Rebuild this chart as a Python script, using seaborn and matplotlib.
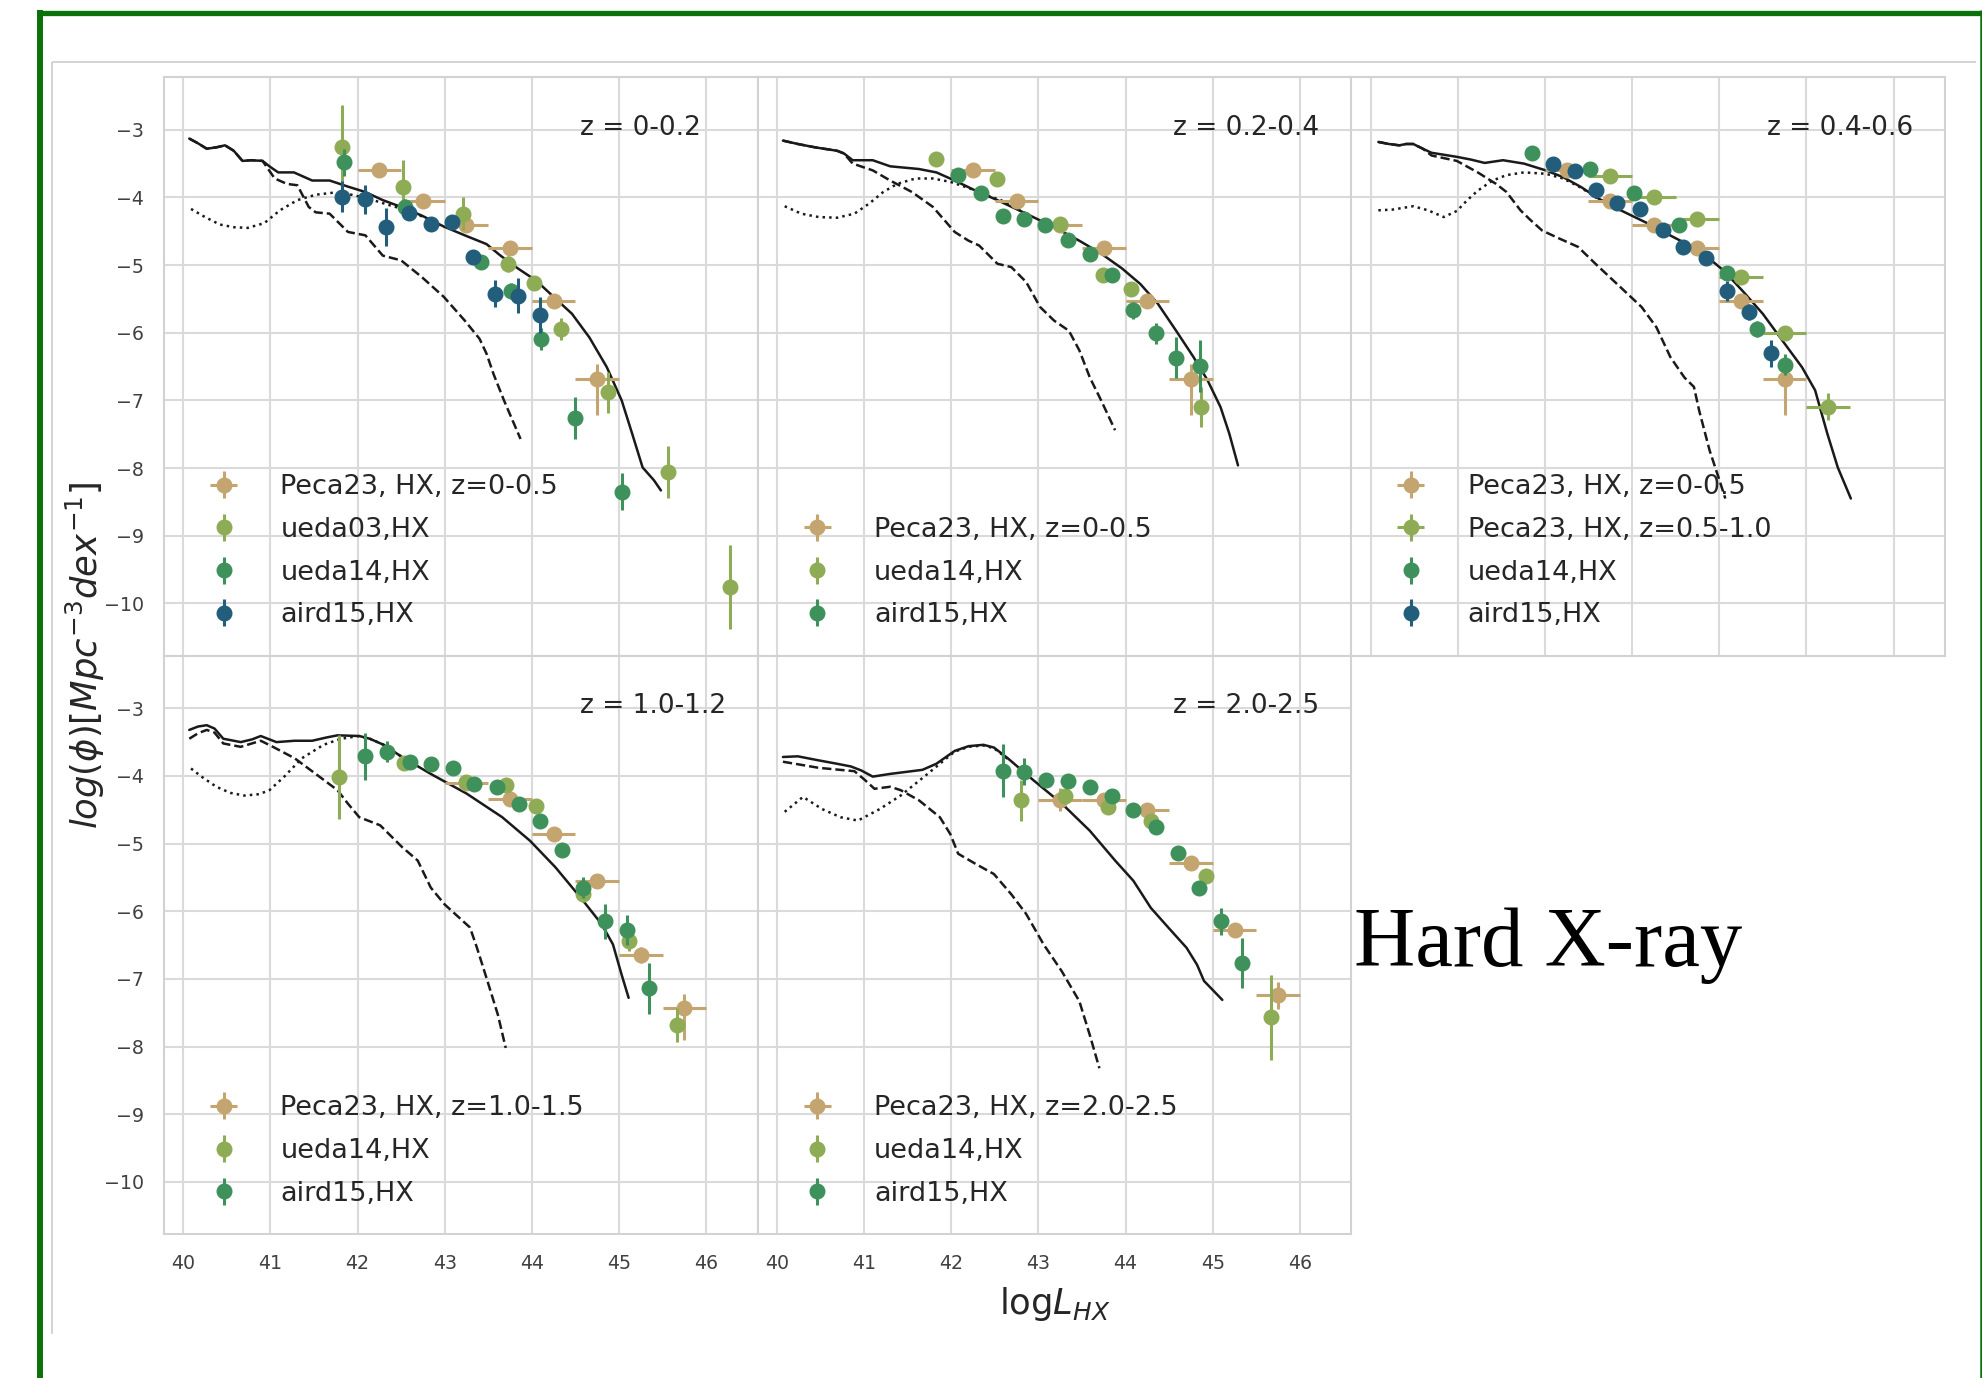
import numpy as np
import matplotlib
matplotlib.use("Agg")
import matplotlib.pyplot as plt
from matplotlib.lines import Line2D
import seaborn as sns

# ---------------------------------------------------------------- model curves
# z = 0-0.2
m1_x = [40.07, 40.17, 40.27, 40.38, 40.48, 40.58, 40.68, 40.78, 40.91, 41.0, 41.09, 41.27, 41.48, 41.68,
        41.89, 42.09, 42.29, 42.5, 42.74, 42.99, 43.23, 43.48, 43.64, 43.84, 44.05, 44.25, 44.46, 44.66,
        44.86, 45.03, 45.15, 45.27, 45.4, 45.48]
m1_tot = [-3.13, -3.2, -3.28, -3.26, -3.23, -3.31, -3.46, -3.45, -3.46, -3.55, -3.63, -3.63, -3.75, -3.75,
          -3.84, -3.92, -4.04, -4.14, -4.27, -4.43, -4.56, -4.69, -4.86, -5.05, -5.23, -5.47, -5.72, -6.07,
          -6.51, -7.0, -7.49, -7.99, -8.18, -8.33]
m1_agn_x = [40.07, 40.17, 40.27, 40.38, 40.48, 40.58, 40.68, 40.78, 40.91, 41.05, 41.19, 41.31, 41.44, 41.52,
            41.68, 41.89, 42.09, 42.29, 42.5, 42.74, 42.99, 43.23, 43.4, 43.48, 43.56, 43.68, 43.78, 43.87]
m1_agn = [-3.13, -3.2, -3.28, -3.26, -3.23, -3.31, -3.46, -3.45, -3.46, -3.72, -3.8, -3.82, -4.14, -4.22,
          -4.24, -4.51, -4.56, -4.86, -4.93, -5.18, -5.47, -5.82, -6.09, -6.31, -6.61, -7.0, -7.3, -7.57]
m1_sf_x = [40.09, 40.25, 40.42, 40.58, 40.74, 40.93, 41.11, 41.31, 41.52, 41.72, 41.93, 42.13, 42.33, 42.54,
           42.74, 42.99]
m1_sf = [-4.17, -4.29, -4.4, -4.44, -4.45, -4.38, -4.19, -4.04, -3.96, -3.93, -3.96, -4.02, -4.1, -4.18,
         -4.28, -4.44]

# z = 0.2-0.4
m2_x = [40.07, 40.24, 40.44, 40.69, 40.77, 40.87, 41.1, 41.3, 41.63, 41.83, 42.04, 42.28, 42.53, 42.86,
        43.18, 43.47, 43.72, 43.96, 44.17, 44.37, 44.58, 44.78, 44.94, 45.09, 45.19, 45.29]
m2_tot = [-3.16, -3.21, -3.26, -3.31, -3.35, -3.45, -3.45, -3.54, -3.58, -3.63, -3.75, -3.9, -4.04, -4.24,
          -4.44, -4.64, -4.83, -5.05, -5.28, -5.57, -5.97, -6.36, -6.7, -7.1, -7.49, -7.96]
m2_agn_x = [40.07, 40.24, 40.44, 40.69, 40.77, 40.87, 41.1, 41.3, 41.55, 41.79, 42.04, 42.2, 42.32, 42.53,
            42.69, 42.86, 43.02, 43.18, 43.35, 43.47, 43.59, 43.72, 43.88]
m2_agn = [-3.16, -3.21, -3.26, -3.31, -3.35, -3.5, -3.6, -3.75, -3.92, -4.14, -4.51, -4.64, -4.71, -4.98,
          -5.03, -5.25, -5.62, -5.82, -5.97, -6.26, -6.66, -7.0, -7.44]
m2_sf_x = [40.09, 40.28, 40.48, 40.69, 40.89, 41.06, 41.22, 41.38, 41.59, 41.79, 41.99, 42.2, 42.41, 42.57,
           42.86]
m2_sf = [-4.13, -4.24, -4.29, -4.3, -4.24, -4.09, -3.92, -3.8, -3.72, -3.72, -3.77, -3.86, -3.97, -4.04,
         -4.24]

# z = 0.4-0.6
m3_x = [40.09, 40.21, 40.33, 40.41, 40.49, 40.6, 40.7, 40.99, 41.15, 41.31, 41.52, 41.76, 42.01, 42.21,
        42.42, 42.62, 42.87, 43.19, 43.48, 43.77, 44.05, 44.26, 44.5, 44.75, 44.95, 45.1, 45.24, 45.36, 45.51]
m3_tot = [-3.18, -3.21, -3.23, -3.21, -3.21, -3.28, -3.34, -3.4, -3.44, -3.49, -3.45, -3.5, -3.6, -3.7,
          -3.85, -4.02, -4.19, -4.39, -4.59, -4.78, -5.08, -5.37, -5.72, -6.16, -6.51, -6.85, -7.49, -7.99, -8.45]
m3_agn_x = [40.09, 40.21, 40.33, 40.41, 40.49, 40.6, 40.7, 40.99, 41.23, 41.44, 41.56, 41.72, 41.84, 41.97,
            42.17, 42.38, 42.58, 42.87, 43.11, 43.28, 43.44, 43.6, 43.71, 43.77, 43.89, 43.99, 44.07]
m3_agn = [-3.18, -3.21, -3.23, -3.21, -3.21, -3.28, -3.38, -3.46, -3.63, -3.8, -3.92, -4.19, -4.34, -4.49,
          -4.61, -4.73, -4.98, -5.33, -5.62, -5.92, -6.36, -6.66, -6.8, -7.15, -7.74, -8.13, -8.45]
m3_sf_x = [40.09, 40.25, 40.49, 40.66, 40.84, 40.99, 41.11, 41.23, 41.4, 41.56, 41.76, 42.01, 42.21, 42.42,
           42.62, 42.87]
m3_sf = [-4.19, -4.18, -4.13, -4.19, -4.29, -4.2, -4.04, -3.9, -3.75, -3.67, -3.63, -3.65, -3.72, -3.86,
         -4.03, -4.19]

# z = 1.0-1.2
m4_x = [40.07, 40.17, 40.27, 40.36, 40.46, 40.66, 40.79, 40.89, 40.99, 41.07, 41.28, 41.48, 41.65, 41.77,
        42.02, 42.14, 42.3, 42.51, 42.84, 43.25, 43.66, 43.98, 44.27, 44.56, 44.8, 44.93, 45.03, 45.11]
m4_tot = [-3.32, -3.27, -3.25, -3.3, -3.45, -3.5, -3.46, -3.41, -3.46, -3.5, -3.48, -3.48, -3.43, -3.4,
          -3.41, -3.45, -3.54, -3.72, -3.97, -4.26, -4.61, -4.96, -5.35, -5.8, -6.19, -6.49, -6.94, -7.28]
m4_agn_x = [40.07, 40.17, 40.27, 40.36, 40.46, 40.66, 40.89, 41.03, 41.28, 41.52, 41.77, 41.89, 42.02, 42.26,
            42.51, 42.69, 42.84, 43.0, 43.29, 43.37, 43.49, 43.61, 43.7]
m4_agn = [-3.45, -3.37, -3.32, -3.36, -3.52, -3.57, -3.48, -3.57, -3.74, -3.97, -4.21, -4.41, -4.61, -4.73,
          -5.05, -5.25, -5.65, -5.9, -6.24, -6.54, -7.03, -7.53, -8.02]
m4_sf_x = [40.09, 40.21, 40.38, 40.54, 40.7, 40.87, 40.99, 41.16, 41.36, 41.61, 41.81, 42.02, 42.14, 42.3,
           42.51]
m4_sf = [-3.89, -4.01, -4.16, -4.25, -4.29, -4.27, -4.21, -4.01, -3.74, -3.54, -3.45, -3.41, -3.45, -3.54,
         -3.72]

# z = 2.0-2.5
m5_x = [40.07, 40.24, 40.48, 40.69, 40.85, 40.97, 41.1, 41.3, 41.67, 41.83, 42.04, 42.2, 42.37, 42.49,
        42.65, 42.94, 43.27, 43.59, 43.88, 44.09, 44.29, 44.49, 44.7, 44.82, 44.9, 45.11]
m5_tot = [-3.72, -3.71, -3.77, -3.82, -3.86, -3.92, -4.01, -3.97, -3.91, -3.82, -3.63, -3.56, -3.54, -3.58,
          -3.74, -4.06, -4.41, -4.81, -5.25, -5.55, -5.95, -6.24, -6.54, -6.79, -7.03, -7.31]
m5_agn_x = [40.07, 40.48, 40.89, 41.01, 41.12, 41.3, 41.42, 41.63, 41.87, 41.99, 42.08, 42.28, 42.49, 42.69,
            42.86, 43.06, 43.27, 43.47, 43.59, 43.7]
m5_agn = [-3.79, -3.88, -3.93, -4.06, -4.19, -4.16, -4.21, -4.36, -4.61, -4.86, -5.15, -5.3, -5.45, -5.75,
          -6.04, -6.49, -6.89, -7.33, -7.83, -8.32]
m5_sf_x = [40.09, 40.3, 40.52, 40.73, 40.93, 41.18, 41.42, 41.71, 41.87, 42.04, 42.2, 42.37, 42.49, 42.65]
m5_sf = [-4.53, -4.31, -4.49, -4.61, -4.66, -4.49, -4.29, -3.99, -3.82, -3.64, -3.57, -3.55, -3.59, -3.75]

# ---------------------------------------------------------------- observed LFs
# Peca23, z = 0-0.5 (shown in the three low-z panels)
peca05_x = [42.25, 42.75, 43.25, 43.75, 44.25, 44.75]
peca05_y = [-3.59, -4.06, -4.40, -4.75, -5.53, -6.68]
peca05_elo = [0.05, 0.05, 0.06, 0.07, 0.09, 0.54]
peca05_ehi = [0.05, 0.05, 0.06, 0.07, 0.08, 0.22]
# Peca23, z = 0.5-1.0
peca10_x = [42.75, 43.25, 43.75, 44.25, 44.75, 45.25]
peca10_y = [-3.69, -4.00, -4.32, -5.18, -6.00, -7.09]
peca10_err = [0.05, 0.05, 0.06, 0.08, 0.10, 0.20]
# Peca23, z = 1.0-1.5
peca15_x = [43.25, 43.75, 44.25, 44.75, 45.25, 45.75]
peca15_y = [-4.10, -4.34, -4.86, -5.55, -6.65, -7.43]
peca15_elo = [0.05, 0.05, 0.06, 0.08, 0.12, 0.47]
peca15_ehi = [0.05, 0.05, 0.06, 0.08, 0.12, 0.20]
# Peca23, z = 2.0-2.5
peca25_x = [43.25, 43.75, 44.25, 44.75, 45.25, 45.75]
peca25_y = [-4.35, -4.36, -4.51, -5.28, -6.28, -7.24]
peca25_err = [0.17, 0.10, 0.08, 0.08, 0.10, 0.20]
peca_xerr = 0.25

# ueda03, z = 0-0.2
ueda03_x = [41.82, 42.52, 43.21, 43.73, 44.03, 44.33, 44.87, 45.56, 46.27]
ueda03_y = [-3.26, -3.84, -4.24, -4.98, -5.27, -5.94, -6.88, -8.06, -9.76]
ueda03_err = [0.62, 0.40, 0.24, 0.12, 0.10, 0.16, 0.30, 0.38, 0.62]

# ueda14
u1_x = [41.84, 42.54, 43.42, 43.76, 44.11, 44.49, 45.03]
u1_y = [-3.48, -4.14, -4.96, -5.38, -6.09, -7.26, -8.35]
u1_err = [0.20, 0.12, 0.08, 0.12, 0.16, 0.31, 0.27]
u2_x = [41.82, 42.52, 43.25, 43.74, 44.06, 44.87]
u2_y = [-3.43, -3.73, -4.39, -5.15, -5.35, -7.10]
u2_err = [0.10, 0.10, 0.06, 0.10, 0.08, 0.30]
u3_x = [41.85, 42.52, 43.02, 43.54, 44.09, 44.43, 44.76]
u3_y = [-3.34, -3.58, -3.94, -4.41, -5.12, -5.95, -6.47]
u3_err = [0.05, 0.05, 0.06, 0.07, 0.10, 0.12, 0.16]
u4_x = [41.79, 42.53, 43.25, 43.70, 44.05, 44.59, 45.11, 45.66]
u4_y = [-4.02, -3.81, -4.09, -4.14, -4.45, -5.75, -6.44, -7.68]
u4_err = [0.62, 0.08, 0.06, 0.07, 0.08, 0.12, 0.15, 0.25]
u5_x = [42.80, 43.30, 43.80, 44.29, 44.92, 45.67]
u5_y = [-4.36, -4.30, -4.46, -4.66, -5.48, -7.57]
u5_err = [0.30, 0.10, 0.10, 0.08, 0.10, 0.63]

# aird15
a1_x = [41.82, 42.08, 42.33, 42.59, 42.84, 43.08, 43.33, 43.58, 43.84, 44.09]
a1_y = [-3.99, -4.03, -4.44, -4.23, -4.39, -4.36, -4.88, -5.42, -5.45, -5.74]
a1_err = [0.23, 0.22, 0.28, 0.10, 0.10, 0.08, 0.10, 0.20, 0.26, 0.27]
a2_x = [42.08, 42.34, 42.59, 42.84, 43.08, 43.34, 43.59, 43.84, 44.09, 44.35, 44.58, 44.85]
a2_y = [-3.67, -3.94, -4.27, -4.32, -4.40, -4.63, -4.84, -5.15, -5.67, -6.01, -6.37, -6.49]
a2_err = [0.06, 0.06, 0.10, 0.08, 0.06, 0.08, 0.08, 0.10, 0.12, 0.15, 0.30, 0.38]
a3_x = [42.09, 42.35, 42.59, 42.83, 43.09, 43.35, 43.59, 43.85, 44.09, 44.34, 44.59]
a3_y = [-3.51, -3.61, -3.89, -4.08, -4.17, -4.48, -4.73, -4.89, -5.38, -5.69, -6.30]
a3_err = [0.05, 0.05, 0.06, 0.06, 0.07, 0.07, 0.08, 0.08, 0.15, 0.12, 0.20]
a4_x = [42.09, 42.34, 42.60, 42.84, 43.09, 43.34, 43.60, 43.85, 44.09, 44.35, 44.59, 44.84, 45.09, 45.34]
a4_y = [-3.71, -3.64, -3.79, -3.83, -3.89, -4.12, -4.17, -4.42, -4.66, -5.09, -5.65, -6.15, -6.28, -7.14]
a4_err = [0.35, 0.15, 0.07, 0.06, 0.06, 0.06, 0.06, 0.07, 0.08, 0.10, 0.15, 0.26, 0.22, 0.38]
a5_x = [42.59, 42.84, 43.09, 43.34, 43.59, 43.84, 44.08, 44.35, 44.60, 44.84, 45.09, 45.34]
a5_y = [-3.92, -3.94, -4.06, -4.07, -4.17, -4.30, -4.51, -4.75, -5.14, -5.66, -6.15, -6.76]
a5_err = [0.39, 0.20, 0.06, 0.06, 0.06, 0.07, 0.07, 0.08, 0.08, 0.10, 0.20, 0.37]

z_labels = ["z = 0-0.2", "z = 0.2-0.4", "z = 0.4-0.6", "z = 1.0-1.2", "z = 2.0-2.5"]
x_ticks = [40, 41, 42, 43, 44, 45, 46]
y_ticks = [-3, -4, -5, -6, -7, -8, -9, -10]

# ---------------------------------------------------------------- style
sns.set_theme(style="whitegrid")
plt.rcParams["font.family"] = ["DejaVu Sans"]
plt.rcParams["mathtext.fontset"] = "dejavusans"
plt.rcParams["grid.color"] = "#dadada"
plt.rcParams["grid.linewidth"] = 1.5
plt.rcParams["axes.edgecolor"] = "#d2d2d2"
plt.rcParams["axes.linewidth"] = 1.5

palette = sns.color_palette("gist_earth_r", 4)

panels = [
    dict(models=(m1_x, m1_tot, m1_agn_x, m1_agn, m1_sf_x, m1_sf),
         series=[("Peca23, HX, z=0-0.5", peca05_x, peca05_y, [peca05_elo, peca05_ehi], peca_xerr),
                 ("ueda03,HX", ueda03_x, ueda03_y, ueda03_err, None),
                 ("ueda14,HX", u1_x, u1_y, u1_err, None),
                 ("aird15,HX", a1_x, a1_y, a1_err, None)]),
    dict(models=(m2_x, m2_tot, m2_agn_x, m2_agn, m2_sf_x, m2_sf),
         series=[("Peca23, HX, z=0-0.5", peca05_x, peca05_y, [peca05_elo, peca05_ehi], peca_xerr),
                 ("ueda14,HX", u2_x, u2_y, u2_err, None),
                 ("aird15,HX", a2_x, a2_y, a2_err, None)]),
    dict(models=(m3_x, m3_tot, m3_agn_x, m3_agn, m3_sf_x, m3_sf),
         series=[("Peca23, HX, z=0-0.5", peca05_x, peca05_y, [peca05_elo, peca05_ehi], peca_xerr),
                 ("Peca23, HX, z=0.5-1.0", peca10_x, peca10_y, peca10_err, peca_xerr),
                 ("ueda14,HX", u3_x, u3_y, u3_err, None),
                 ("aird15,HX", a3_x, a3_y, a3_err, None)]),
    dict(models=(m4_x, m4_tot, m4_agn_x, m4_agn, m4_sf_x, m4_sf),
         series=[("Peca23, HX, z=1.0-1.5", peca15_x, peca15_y, [peca15_elo, peca15_ehi], peca_xerr),
                 ("ueda14,HX", u4_x, u4_y, u4_err, None),
                 ("aird15,HX", a4_x, a4_y, a4_err, None)]),
    dict(models=(m5_x, m5_tot, m5_agn_x, m5_agn, m5_sf_x, m5_sf),
         series=[("Peca23, HX, z=2.0-2.5", peca25_x, peca25_y, peca25_err, peca_xerr),
                 ("ueda14,HX", u5_x, u5_y, u5_err, None),
                 ("aird15,HX", a5_x, a5_y, a5_err, None)]),
]

W, H = 1983, 1378
fig, axes = plt.subplots(2, 3, figsize=(W / 100, H / 100), dpi=100, sharex=True, sharey=True)
fig.patch.set_facecolor("white")
fig.subplots_adjust(left=164 / W, right=1945 / W, top=1 - 77 / H, bottom=1 - 1234 / H,
                    wspace=0, hspace=0)

for i, ax in enumerate(axes.flat):
    if i >= len(panels):
        ax.set_visible(False)
        continue
    p = panels[i]
    mx, mtot, ax_x, magn, sx, msf = p["models"]
    sns.lineplot(x=mx, y=mtot, ax=ax, color="#1a1a1a", lw=1.8, sort=False, estimator=None, legend=False)
    sns.lineplot(x=ax_x, y=magn, ax=ax, color="#1a1a1a", lw=1.8, linestyle="--", sort=False,
                 estimator=None, legend=False)
    sns.lineplot(x=sx, y=msf, ax=ax, color="#1a1a1a", lw=1.8, linestyle=":", sort=False,
                 estimator=None, legend=False)
    for k, (lab, x, y, yerr, xerr) in enumerate(p["series"]):
        ax.errorbar(x, y, yerr=yerr, xerr=xerr, fmt="o", color=palette[k], ms=10.5,
                    elinewidth=2.2, capsize=0, label=lab, zorder=3 + k)
    ax.text(0.70, 0.90, z_labels[i], transform=ax.transAxes, fontsize=19, color="#262626",
            ha="left", va="baseline")
    ax.legend(loc="lower left", frameon=False, fontsize=19.5, handlelength=2.4,
              handletextpad=0.9, labelspacing=0.62, borderaxespad=0.6)
    ax.set_xlim(39.78, 46.59)
    ax.set_ylim(-10.77, -2.22)
    ax.set_xticks(x_ticks)
    ax.set_yticks(y_ticks)
    ax.tick_params(axis="both", labelsize=13.7, pad=14.5, length=0, colors="#404040")
    ax.set_xlabel("")
    ax.set_ylabel("")

fig.text((164 + 1945) / 2 / W, 1 - 1314 / H, r"log$L_{HX}$", fontsize=25.5, color="#262626",
         ha="center", va="baseline")
fig.text(85 / W, 1 - 655.5 / H, r"$log(\phi)[Mpc^{-3}dex^{-1}]$", fontsize=25.5, color="#262626",
         rotation=90, ha="center", va="center")
fig.text(1354 / W, 1 - 966 / H, "Hard X-ray", family="Liberation Serif", fontsize=61,
         color="black", ha="left", va="baseline")

# page frame around the figure
def fig_line(xs, ys, color, lw):
    fig.add_artist(Line2D([v / W for v in xs], [1 - v / H for v in ys], color=color, lw=lw,
                          transform=fig.transFigure, solid_capstyle="butt"))

fig_line([52, 1976], [62, 62], "#c8c8c8", 1.1)
fig_line([52, 52], [62, 1334], "#c8c8c8", 1.1)
fig_line([37, 1983], [13, 13], "#0b720b", 3.8)
fig_line([40, 40], [10, 1378], "#0b720b", 4.3)
fig_line([1981, 1981], [10, 1378], "#0b720b", 1.8)

fig.savefig("out.png", dpi=100, facecolor="white")
